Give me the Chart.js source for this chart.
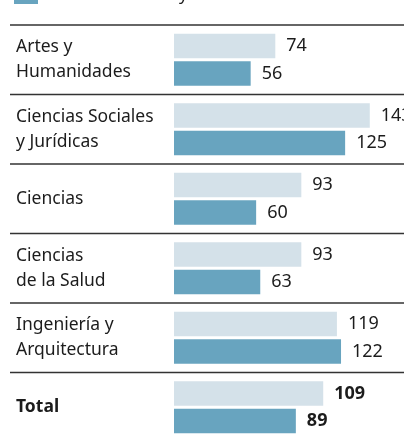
<!DOCTYPE html>
<html>
<head>
<meta charset="utf-8">
<script src="https://cdn.jsdelivr.net/npm/chart.js@4.4.1/dist/chart.umd.min.js"></script>
<style>
    html, body { margin: 0; padding: 0; background: #fff; overflow: hidden; }
    canvas { display: block; }
</style>
</head>
<body>
<canvas id="chart" width="404" height="442"></canvas>
<script>
// areas de conocimiento
const categories = [
    ['Artes y', 'Humanidades'],
    ['Ciencias Sociales', 'y Jurídicas'],
    'Ciencias',
    ['Ciencias', 'de la Salud'],
    ['Ingeniería y', 'Arquitectura'],
    'Total'
];
const seriesLight = [74, 143, 93, 93, 119, 109];
const seriesDark  = [56, 125, 60, 63, 122, 89];

const LIGHT = '#d4e1e9';
const DARK  = '#68a4bf';
const TEXT  = '#1c1c1c';
const FONT  = '"Noto Sans", "Open Sans", sans-serif';

// separator rules, value labels and the cut-off legend swatch
const decorPlugin = {
    id: 'decor',
    afterDraw(chart) {
        const ctx = chart.ctx;
        const y = chart.scales.y;
        const half = (y.getPixelForValue(1) - y.getPixelForValue(0)) / 2;

        ctx.save();
        ctx.strokeStyle = '#333';
        ctx.lineWidth = 1.5;
        for (let i = 0; i < categories.length; i++) {
            const py = y.getPixelForValue(i) - half;
            ctx.beginPath();
            ctx.moveTo(10, py);
            ctx.lineTo(chart.width, py);
            ctx.stroke();
        }

        ctx.textBaseline = 'middle';
        ctx.textAlign = 'left';
        ctx.fillStyle = TEXT;
        chart.data.datasets.forEach((ds, di) => {
            const meta = chart.getDatasetMeta(di);
            meta.data.forEach((bar, i) => {
                const bold = i === categories.length - 1;
                ctx.font = (bold ? 'bold ' : '') + '18px ' + FONT;
                ctx.fillText(String(ds.data[i]), bar.x + 11, bar.y);
            });
        });

        // legend remnant at the very top
        ctx.fillStyle = DARK;
        ctx.fillRect(14, 0, 24, 4);
        ctx.fillStyle = TEXT;
        ctx.font = '17px ' + FONT;
        ctx.textBaseline = 'alphabetic';
        ctx.fillText('y', 179, 0);
        ctx.restore();
    }
};

new Chart(document.getElementById('chart'), {
    type: 'bar',
    data: {
        labels: categories,
        datasets: [
            { label: 'a', data: seriesLight, backgroundColor: LIGHT,
              categoryPercentage: 0.79, barPercentage: 0.89 },
            { label: 'b', data: seriesDark, backgroundColor: DARK,
              categoryPercentage: 0.79, barPercentage: 0.89 }
        ]
    },
    options: {
        indexAxis: 'y',
        responsive: false,
        animation: false,
        layout: { padding: { left: 16, top: 25, right: 0, bottom: 0 } },
        plugins: {
            legend: { display: false },
            tooltip: { enabled: false }
        },
        scales: {
            x: { display: false, min: 0, max: 168 },
            y: {
                grid: { display: false },
                border: { display: false },
                afterFit: (scale) => {
                    scale.width = 158;
                    scale.paddingTop = 0;
                    scale.paddingBottom = 0;
                },
                ticks: {
                    crossAlign: 'far',
                    padding: 0,
                    color: TEXT,
                    font: (c) => ({
                        family: FONT,
                        size: 17.5,
                        lineHeight: 1.45,
                        weight: c.index === categories.length - 1 ? 'bold' : 'normal'
                    })
                }
            }
        }
    },
    plugins: [decorPlugin]
});
</script>
</body>
</html>
